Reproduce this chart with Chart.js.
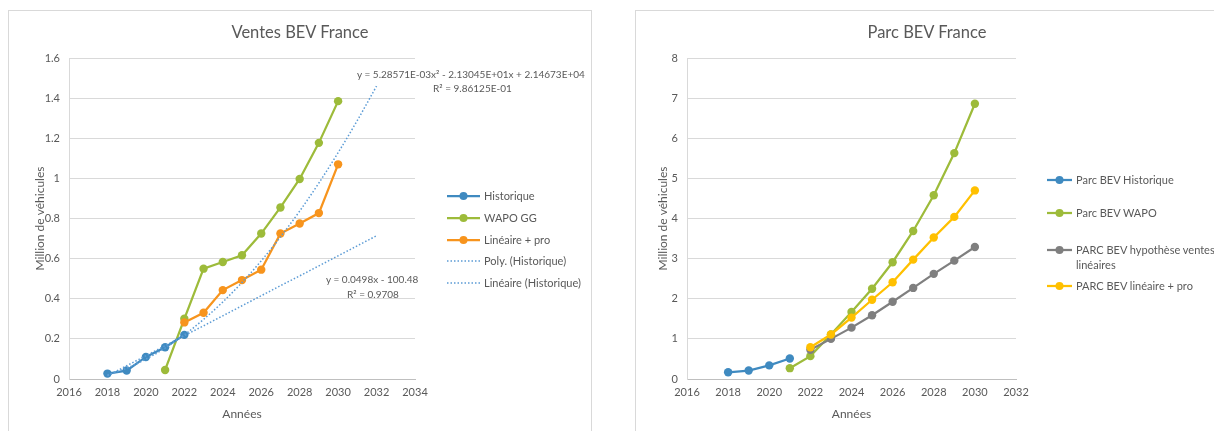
<!DOCTYPE html>
<html><head><meta charset="utf-8">
<script src="https://cdn.jsdelivr.net/npm/chart.js@4.4.0/dist/chart.umd.min.js"></script>
<style>
html,body{margin:0;padding:0;background:#fff;width:1214px;height:431px;overflow:hidden;font-family:Lato,"Open Sans",sans-serif;color:#595959}
.box{position:absolute;border:1px solid #d9d9d9;box-sizing:border-box;background:#fff}
.cv{position:absolute}
.t{position:absolute;white-space:nowrap;font-size:10px;color:#595959;line-height:13px}
.title{position:absolute;white-space:nowrap;font-size:16.5px;color:#595959;transform:translate(-50%,-50%)}
.leg{position:absolute;font-size:11px;color:#595959}
.leg svg{position:absolute;left:0;top:0}
.leg span{position:absolute;white-space:nowrap}
</style>
</head><body>
<div class="box" style="left:8px;top:10px;width:584px;height:430px"></div>
<div class="box" style="left:635px;top:10px;width:600px;height:430px"></div>
<div class="cv" style="left:8px;top:10px"><canvas id="c1" width="583" height="421"></canvas></div>
<div class="cv" style="left:635px;top:10px"><canvas id="c2" width="579" height="421"></canvas></div>
<div class="title" style="left:300px;top:32px">Ventes BEV France</div>
<div class="title" style="left:927px;top:32px">Parc BEV France</div>
<div class="t" style="left:357px;top:68px">y = 5.28571E-03x² - 2.13045E+01x + 2.14673E+04</div>
<div class="t" style="left:433px;top:82px">R² = 9.86125E-01</div>
<div class="t" style="left:326px;top:273px">y = 0.0498x - 100.48</div>
<div class="t" style="left:347px;top:288px">R² = 0.9708</div>
<div class="leg" id="leg1"></div>
<div class="leg" id="leg2"></div>
<script>
// ---- Ventes BEV France (million vehicles) ----
const histYears = [2018, 2019, 2020, 2021, 2022];
const histSales = [0.027, 0.042, 0.11, 0.158, 0.22];
const wapoYears = [2021, 2022, 2023, 2024, 2025, 2026, 2027, 2028, 2029, 2030];
const wapoSales = [0.045, 0.30, 0.55, 0.583, 0.617, 0.725, 0.855, 0.997, 1.177, 1.385];
const linProYears = [2022, 2023, 2024, 2025, 2026, 2027, 2028, 2029, 2030];
const linProSales = [0.282, 0.33, 0.443, 0.493, 0.545, 0.725, 0.775, 0.827, 1.07];
const trendYears = [2018, 2019, 2020, 2021, 2022, 2023, 2024, 2025, 2026, 2027, 2028, 2029, 2030, 2031, 2032];
const polyTrend = [0.020, 0.054, 0.099, 0.154, 0.220, 0.297, 0.384, 0.481, 0.589, 0.708, 0.837, 0.977, 1.128, 1.289, 1.460];
const linTrend = [0.016, 0.066, 0.116, 0.166, 0.216, 0.265, 0.315, 0.365, 0.415, 0.465, 0.514, 0.564, 0.614, 0.664, 0.714];
const salesXTicks = [2016, 2018, 2020, 2022, 2024, 2026, 2028, 2030, 2032, 2034];
const salesYTicks = ['0', '0.2', '0.4', '0.6', '0.8', '1', '1.2', '1.4', '1.6'];
const salesNames = ['Historique', 'WAPO GG', 'Linéaire + pro', 'Poly. (Historique)', 'Linéaire (Historique)'];

// ---- Parc BEV France (million vehicles) ----
const parcHistYears = [2018, 2019, 2020, 2021];
const parcHist = [0.167, 0.21, 0.34, 0.51];
const parcWapoYears = [2021, 2022, 2023, 2024, 2025, 2026, 2027, 2028, 2029, 2030];
const parcWapo = [0.27, 0.57, 1.11, 1.67, 2.25, 2.91, 3.69, 4.58, 5.63, 6.86];
const parcLinYears = [2022, 2023, 2024, 2025, 2026, 2027, 2028, 2029, 2030];
const parcLin = [0.73, 1.0, 1.28, 1.59, 1.925, 2.27, 2.62, 2.95, 3.29];
const parcLinProYears = [2022, 2023, 2024, 2025, 2026, 2027, 2028, 2029, 2030];
const parcLinPro = [0.79, 1.11, 1.53, 1.975, 2.41, 2.975, 3.525, 4.04, 4.7];
const parcXTicks = [2016, 2018, 2020, 2022, 2024, 2026, 2028, 2030, 2032];
const parcYTicks = ['0', '1', '2', '3', '4', '5', '6', '7', '8'];
const parcNames = ['Parc BEV Historique', 'Parc BEV WAPO', ['PARC BEV hypothèse ventes', 'linéaires'], 'PARC BEV linéaire + pro'];

const BLUE = '#3f8ac0', GREEN = '#9dbb3a', ORANGE = '#f7941d', GREY = '#7f7f7f', YELLOW = '#ffc000', TREND = '#5b9bd5';
const FONT = 'Lato, "Open Sans", sans-serif';
const TXT = '#595959';

function pts(xs, ys) { return xs.map((x, i) => ({x: x, y: ys[i]})); }
function lineDs(label, xs, ys, color, order) {
  return {label: label, data: pts(xs, ys), borderColor: color, backgroundColor: color,
    borderWidth: 2.25, pointRadius: 4.2, pointHoverRadius: 4.2, pointBorderWidth: 0, tension: 0, order: order};
}
function trendDs(label, xs, ys, order) {
  return {label: label, data: pts(xs, ys), borderColor: TREND, borderWidth: 1.5, borderDash: [1.5, 2],
    pointRadius: 0, tension: 0, cubicInterpolationMode: 'monotone', order: order};
}
function scales(xTicks, xmin, xmax, ymax, ystep, yLabels, yW) {
  return {
    x: {type: 'linear', min: xmin, max: xmax,
      afterBuildTicks: s => { s.ticks = xTicks.map(v => ({value: v})); },
      afterFit: s => { s.height = 46; },
      ticks: {callback: v => String(v), color: TXT, font: {family: FONT, size: 11}, padding: 7, maxRotation: 0, autoSkip: false},
      grid: {display: false, drawTicks: false},
      border: {display: true, color: '#bfbfbf', width: 1},
      title: {display: true, text: 'Années', color: TXT, font: {family: FONT, size: 12}, padding: {top: 2, bottom: 4}}
    },
    y: {min: 0, max: ymax,
      afterBuildTicks: s => { s.ticks = yLabels.map((l, i) => ({value: i * ystep})); },
      afterFit: s => { s.width = yW; },
      ticks: {callback: (v, i) => yLabels[i], color: TXT, font: {family: FONT, size: 11}, padding: 9, autoSkip: false},
      grid: {color: '#d9d9d9', drawTicks: false, lineWidth: 1},
      border: {display: true, color: '#d9d9d9', width: 1},
      title: {display: true, text: 'Million de véhicules', color: TXT, font: {family: FONT, size: 12}, padding: {top: 4, bottom: 4}}
    }
  };
}

const c1 = new Chart(document.getElementById('c1'), {
  type: 'line',
  data: {datasets: [
    lineDs(salesNames[0], histYears, histSales, BLUE, 1),
    lineDs(salesNames[1], wapoYears, wapoSales, GREEN, 3),
    lineDs(salesNames[2], linProYears, linProSales, ORANGE, 2),
    trendDs(salesNames[3], trendYears, polyTrend, 0),
    trendDs(salesNames[4], trendYears, linTrend, 0)
  ]},
  options: {responsive: false, animation: false, events: [],
    layout: {padding: {left: 21, top: 48, right: 176, bottom: 6}},
    plugins: {legend: {display: false}, tooltip: {enabled: false}, title: {display: false}},
    scales: scales(salesXTicks, 2016, 2034, 1.6, 0.2, salesYTicks, 40)}
});

const c2 = new Chart(document.getElementById('c2'), {
  type: 'line',
  data: {datasets: [
    lineDs('Parc BEV Historique', parcHistYears, parcHist, BLUE, 0),
    lineDs('Parc BEV WAPO', parcWapoYears, parcWapo, GREEN, 3),
    lineDs('PARC BEV hypothèse ventes linéaires', parcLinYears, parcLin, GREY, 2),
    lineDs('PARC BEV linéaire + pro', parcLinProYears, parcLinPro, YELLOW, 1)
  ]},
  options: {responsive: false, animation: false, events: [],
    layout: {padding: {left: 17, top: 48, right: 198, bottom: 6}},
    plugins: {legend: {display: false}, tooltip: {enabled: false}, title: {display: false}},
    scales: scales(parcXTicks, 2016, 2032, 8, 1, parcYTicks, 35)}
});

// HTML legends built from the chart datasets
function buildLegend(el, chart, names, left, rowsY, lineW) {
  el.style.left = left + 'px'; el.style.top = '0px';
  chart.data.datasets.forEach((ds, i) => {
    const y = rowsY[i];
    const dotted = ds.pointRadius === 0;
    const svg = document.createElementNS('http://www.w3.org/2000/svg', 'svg');
    svg.setAttribute('width', lineW); svg.setAttribute('height', 12);
    svg.style.top = (y - 6) + 'px';
    const ln = document.createElementNS('http://www.w3.org/2000/svg', 'line');
    ln.setAttribute('x1', 0); ln.setAttribute('x2', lineW); ln.setAttribute('y1', 6); ln.setAttribute('y2', 6);
    ln.setAttribute('stroke', ds.borderColor); ln.setAttribute('stroke-width', dotted ? 1.5 : 2.25);
    if (dotted) ln.setAttribute('stroke-dasharray', '1.5 2');
    svg.appendChild(ln);
    if (!dotted) {
      const c = document.createElementNS('http://www.w3.org/2000/svg', 'circle');
      c.setAttribute('cx', lineW / 2); c.setAttribute('cy', 6); c.setAttribute('r', 4); c.setAttribute('fill', ds.borderColor);
      svg.appendChild(c);
    }
    el.appendChild(svg);
    const n = names[i];
    const lines = Array.isArray(n) ? n : [n];
    lines.forEach((t, k) => {
      const sp = document.createElement('span');
      sp.textContent = t;
      sp.style.left = (lineW + 4) + 'px';
      sp.style.top = (y - 8 + k * 15) + 'px';
      sp.style.lineHeight = '15px';
      el.appendChild(sp);
    });
  });
}
buildLegend(document.getElementById('leg1'), c1, salesNames, 447, [196, 218, 240, 261, 283], 33);
buildLegend(document.getElementById('leg2'), c2, parcNames, 1047, [180, 213, 250, 286], 25);
</script>
</body></html>
